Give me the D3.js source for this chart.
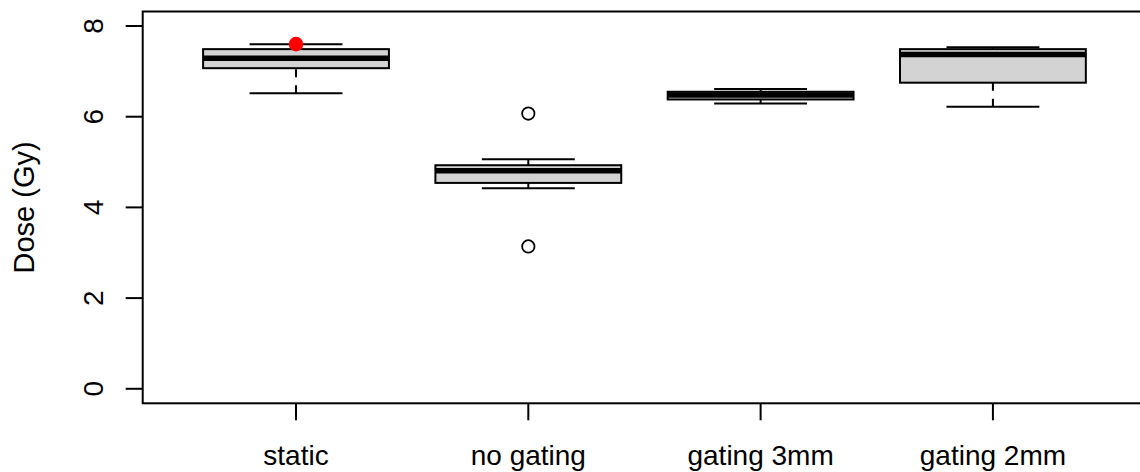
<!DOCTYPE html>
<html>
<head>
<meta charset="utf-8">
<script src="https://cdn.jsdelivr.net/npm/d3@7"></script>
<style>
  html, body { margin: 0; padding: 0; background: #fff; }
  svg { display: block; }
  text { font-family: "Liberation Sans", Arial, sans-serif; fill: #000; }
</style>
</head>
<body>
<svg id="chart" width="1140" height="472"></svg>
<script>
// ---- data ----
const categories = ["static", "no gating", "gating 3mm", "gating 2mm"];
const whiskerLow  = [6.52, 4.42, 6.29, 6.22];
const q1          = [7.07, 4.54, 6.38, 6.75];
const medians     = [7.29, 4.81, 6.48, 7.37];
const q3          = [7.49, 4.93, 6.55, 7.49];
const whiskerHigh = [7.60, 5.06, 6.61, 7.53];
const outliers    = [[], [6.07, 3.14], [], []];
const highlightCategory = ["static"];
const highlightValue = [7.60];
const yTicks = [0, 2, 4, 6, 8];
const yTitle = "Dose (Gy)";

// ---- layout ----
const svg = d3.select("#chart");
const plotLeft = 142.7, plotTop = 11.5, plotBottom = 403.3, unit = 232.3;
const x = d3.scaleLinear().domain([0.34, 4.66]).range([plotLeft, plotLeft + 4.32 * unit]);
const y = d3.scaleLinear().domain([-0.32, 8.32]).range([plotBottom, plotTop]);
const pos = i => x(i + 1);
const boxHalf = x(1.4) - x(1);   // 0.4 units
const capHalf = x(1.2) - x(1);   // 0.2 units
const lw = 2;

const g = svg.append("g");

categories.forEach((c, i) => {
  const cx = pos(i);
  const gg = g.append("g");
  gg.append("line").attr("x1", cx).attr("x2", cx)
    .attr("y1", y(whiskerLow[i])).attr("y2", y(q1[i]))
    .attr("stroke", "#000").attr("stroke-width", lw).attr("stroke-dasharray", "8,8");
  gg.append("line").attr("x1", cx).attr("x2", cx)
    .attr("y1", y(whiskerHigh[i])).attr("y2", y(q3[i]))
    .attr("stroke", "#000").attr("stroke-width", lw).attr("stroke-dasharray", "8,8");
  [whiskerLow[i], whiskerHigh[i]].forEach(v => {
    gg.append("line").attr("x1", cx - capHalf).attr("x2", cx + capHalf)
      .attr("y1", y(v)).attr("y2", y(v))
      .attr("stroke", "#000").attr("stroke-width", lw);
  });
  gg.append("rect")
    .attr("x", cx - boxHalf).attr("width", 2 * boxHalf)
    .attr("y", y(q3[i])).attr("height", y(q1[i]) - y(q3[i]))
    .attr("fill", "#d3d3d3").attr("stroke", "#000").attr("stroke-width", lw);
  gg.append("line").attr("x1", cx - boxHalf).attr("x2", cx + boxHalf)
    .attr("y1", y(medians[i])).attr("y2", y(medians[i]))
    .attr("stroke", "#000").attr("stroke-width", 5.5);
  outliers[i].forEach(v => {
    gg.append("circle").attr("cx", cx).attr("cy", y(v)).attr("r", 6.2)
      .attr("fill", "none").attr("stroke", "#000").attr("stroke-width", 1.8);
  });
});

highlightCategory.forEach((c, k) => {
  const i = categories.indexOf(c);
  g.append("circle").attr("cx", pos(i)).attr("cy", y(highlightValue[k])).attr("r", 7.3)
    .attr("fill", "#ff0000");
});

svg.append("rect").attr("x", plotLeft).attr("y", plotTop)
  .attr("width", x(4.66) - plotLeft).attr("height", plotBottom - plotTop)
  .attr("fill", "none").attr("stroke", "#000").attr("stroke-width", lw);

const tickLen = 17;
yTicks.forEach(t => {
  svg.append("line").attr("x1", plotLeft - tickLen).attr("x2", plotLeft)
    .attr("y1", y(t)).attr("y2", y(t)).attr("stroke", "#000").attr("stroke-width", lw);
  svg.append("text").attr("transform", `translate(103,${y(t)}) rotate(-90)`)
    .attr("text-anchor", "middle").attr("font-size", 28).text(t);
});

categories.forEach((c, i) => {
  svg.append("line").attr("x1", pos(i)).attr("x2", pos(i))
    .attr("y1", plotBottom).attr("y2", plotBottom + tickLen).attr("stroke", "#000").attr("stroke-width", lw);
  svg.append("text").attr("x", pos(i)).attr("y", 465)
    .attr("text-anchor", "middle").attr("font-size", 28).text(c);
});

svg.append("text").attr("transform", `translate(33.5,${(plotTop + plotBottom) / 2}) rotate(-90)`)
  .attr("text-anchor", "middle").attr("font-size", 29).text(yTitle);
</script>
</body>
</html>
